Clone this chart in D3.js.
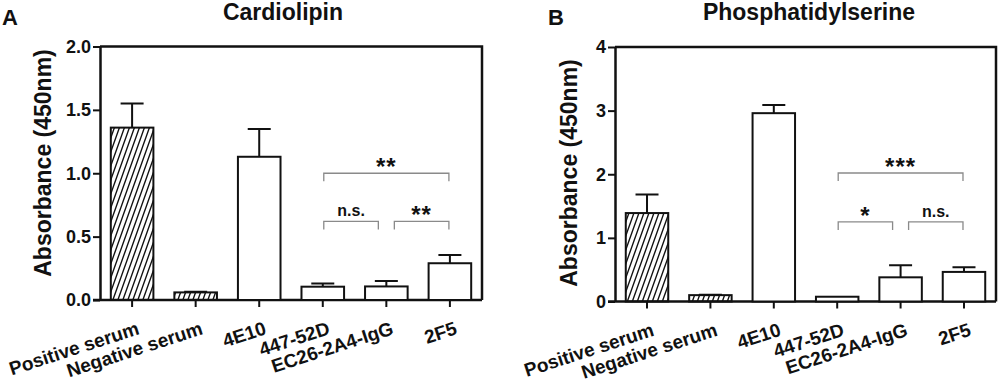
<!DOCTYPE html>
<html>
<head>
<meta charset="utf-8">
<script src="https://cdn.jsdelivr.net/npm/d3@7/dist/d3.min.js"></script>
<style>
  body { margin: 0; background: #fff; }
  text { font-family: "Liberation Sans", Arial, sans-serif; font-weight: bold; fill: #111; }
</style>
</head>
<body>
<svg id="chart" width="1000" height="383"></svg>
<script>
var groups = ['Positive serum', 'Negative serum', '4E10', '447-52D', 'EC26-2A4-IgG', '2F5'];
var hatched = [true, true, false, false, false, false];

var cardioMean = [1.36, 0.06, 1.13, 0.105, 0.107, 0.29];
var cardioErr = [0.19, 0.005, 0.22, 0.025, 0.043, 0.065];
var cardioTicks = [0, 0.5, 1.0, 1.5, 2.0];
// [from group, to group, height, label]
var cardioBrackets = [[3, 5, 1.0, '**'], [3, 4, 0.62, 'n.s.'], [4, 5, 0.62, '**']];

var psMean = [1.39, 0.10, 2.96, 0.075, 0.38, 0.465];
var psErr = [0.29, 0.005, 0.13, 0, 0.19, 0.075];
var psTicks = [0, 1, 2, 3, 4];
var psBrackets = [[3, 5, 2.02, '***'], [3, 4, 1.25, '*'], [4, 5, 1.25, 'n.s.']];

var svg = d3.select('#chart');
var ink = '#111';

// diagonal hatch for the serum controls
var hw = 5, hh = 14;
svg.append('defs').append('pattern')
    .attr('id', 'hatch')
    .attr('patternUnits', 'userSpaceOnUse')
    .attr('width', hw)
    .attr('height', hh)
  .append('path')
    .attr('d', 'M' + (-hw / 2) + ',' + (hh / 2) + 'L' + (hw / 2) + ',' + (-hh / 2) +
               'M' + (-hw * 0.2) + ',' + (hh * 1.2) + 'L' + (hw * 1.2) + ',' + (-hh * 0.2) +
               'M' + (hw / 2) + ',' + (hh * 1.5) + 'L' + (hw * 1.5) + ',' + (hh / 2))
    .attr('stroke', ink)
    .attr('stroke-width', 1.4);

function drawPanel(opts) {
    var g = svg.append('g');

    var x = d3.scaleBand()
        .domain(groups)
        .range([opts.left, opts.right])
        .paddingInner(0.33)
        .paddingOuter(0.17);

    var y = d3.scaleLinear()
        .domain([0, opts.ticks[opts.ticks.length - 1]])
        .range([opts.bottom, opts.top]);

    // frame (top + right), axes draw the rest
    g.append('path')
        .attr('d', 'M' + opts.left + ',' + opts.top + 'H' + opts.right + 'V' + opts.bottom)
        .attr('fill', 'none')
        .attr('stroke', ink)
        .attr('stroke-width', 2.5);

    var yAxis = g.append('g')
        .attr('transform', 'translate(' + opts.left + ',0)')
        .call(d3.axisLeft(y).tickValues(opts.ticks).tickFormat(opts.format).tickSize(7).tickSizeOuter(0).tickPadding(2));

    var xAxis = g.append('g')
        .attr('transform', 'translate(0,' + opts.bottom + ')')
        .call(d3.axisBottom(x).tickSize(7).tickSizeOuter(0).tickFormat(''));

    [yAxis, xAxis].forEach(function(a) {
        a.select('.domain').attr('stroke', ink).attr('stroke-width', 2.5);
        a.selectAll('.tick line').attr('stroke', ink).attr('stroke-width', 2);
    });
    yAxis.selectAll('.tick text').attr('font-size', 18).attr('fill', ink).attr('font-family', null);
    // extend bottom axis line to the y tick at zero
    xAxis.select('.domain').attr('d', 'M' + (opts.left - 7) + ',0H' + opts.right);

    // rotated category labels
    g.selectAll('.xlab')
        .data(groups)
        .enter().append('text')
        .attr('class', 'xlab')
        .attr('transform', function(d) {
            return 'translate(' + (x(d) + x.bandwidth() / 2 + 4) + ',' + (opts.bottom + 21) + ') rotate(-18)';
        })
        .attr('text-anchor', 'end')
        .attr('dy', '0.71em')
        .attr('font-size', 19)
        .text(function(d) { return d; });

    // bars
    var bars = g.selectAll('.bar')
        .data(groups)
        .enter().append('g');

    bars.append('rect')
        .attr('x', function(d) { return x(d); })
        .attr('y', function(d, i) { return y(opts.mean[i]); })
        .attr('width', x.bandwidth())
        .attr('height', function(d, i) { return y(0) - y(opts.mean[i]); })
        .attr('fill', function(d, i) { return hatched[i] ? 'url(#hatch)' : '#fff'; })
        .attr('stroke', ink)
        .attr('stroke-width', 2);

    // upper error bars
    var cap = 23;
    bars.filter(function(d, i) { return opts.err[i] > 0; })
        .append('path')
        .attr('d', function(d) {
            var i = groups.indexOf(d);
            var cx = x(d) + x.bandwidth() / 2;
            var top = y(opts.mean[i] + opts.err[i]);
            return 'M' + cx + ',' + y(opts.mean[i]) + 'V' + top +
                   'M' + (cx - cap / 2) + ',' + top + 'H' + (cx + cap / 2);
        })
        .attr('fill', 'none')
        .attr('stroke', ink)
        .attr('stroke-width', 2);

    // significance brackets
    function cx(i) { return x(groups[i]) + x.bandwidth() / 2; }
    function shared(i, h) {
        return opts.brackets.filter(function(b) { return b[2] === h && (b[0] === i || b[1] === i); }).length > 1;
    }
    opts.brackets.forEach(function(b) {
        var by = y(b[2]);
        var x1 = cx(b[0]) + (shared(b[0], b[2]) ? 8 : 1);
        var x2 = cx(b[1]) - (shared(b[1], b[2]) ? 8 : 1);
        g.append('path')
            .attr('d', 'M' + x1 + ',' + (by + 8) + 'V' + by + 'H' + x2 + 'V' + (by + 8))
            .attr('fill', 'none')
            .attr('stroke', '#8a8a8a')
            .attr('stroke-width', 1.3);
        var star = b[3].indexOf('*') === 0;
        g.append('text')
            .attr('x', (x1 + x2) / 2)
            .attr('y', star ? by + 2 : by - 5)
            .attr('text-anchor', 'middle')
            .attr('font-size', star ? 24 : 16)
            .attr('letter-spacing', star ? 1 : 0)
            .text(b[3]);
    });

    // y label
    g.append('text')
        .attr('transform', 'translate(' + opts.labelX + ',' + opts.labelY + ') rotate(-90)')
        .attr('text-anchor', 'middle')
        .attr('font-size', 23)
        .text('Absorbance (450nm)');

    // title and panel letter
    g.append('text')
        .attr('x', opts.titleX)
        .attr('y', 20)
        .attr('text-anchor', 'middle')
        .attr('font-size', 23)
        .text(opts.title);

    g.append('text')
        .attr('x', opts.letterX)
        .attr('y', 25)
        .attr('font-size', 22)
        .text(opts.letter);
}

drawPanel({
    letter: 'A', letterX: 2, title: 'Cardiolipin', titleX: 283,
    left: 100, right: 482, top: 46.5, bottom: 300,
    mean: cardioMean, err: cardioErr, ticks: cardioTicks,
    format: d3.format('.1f'), brackets: cardioBrackets,
    labelX: 51, labelY: 163
});

drawPanel({
    letter: 'B', letterX: 548, title: 'Phosphatidylserine', titleX: 809,
    left: 615, right: 996, top: 47, bottom: 301.5,
    mean: psMean, err: psErr, ticks: psTicks,
    format: d3.format('d'), brackets: psBrackets,
    labelX: 577, labelY: 173
});
</script>
</body>
</html>
